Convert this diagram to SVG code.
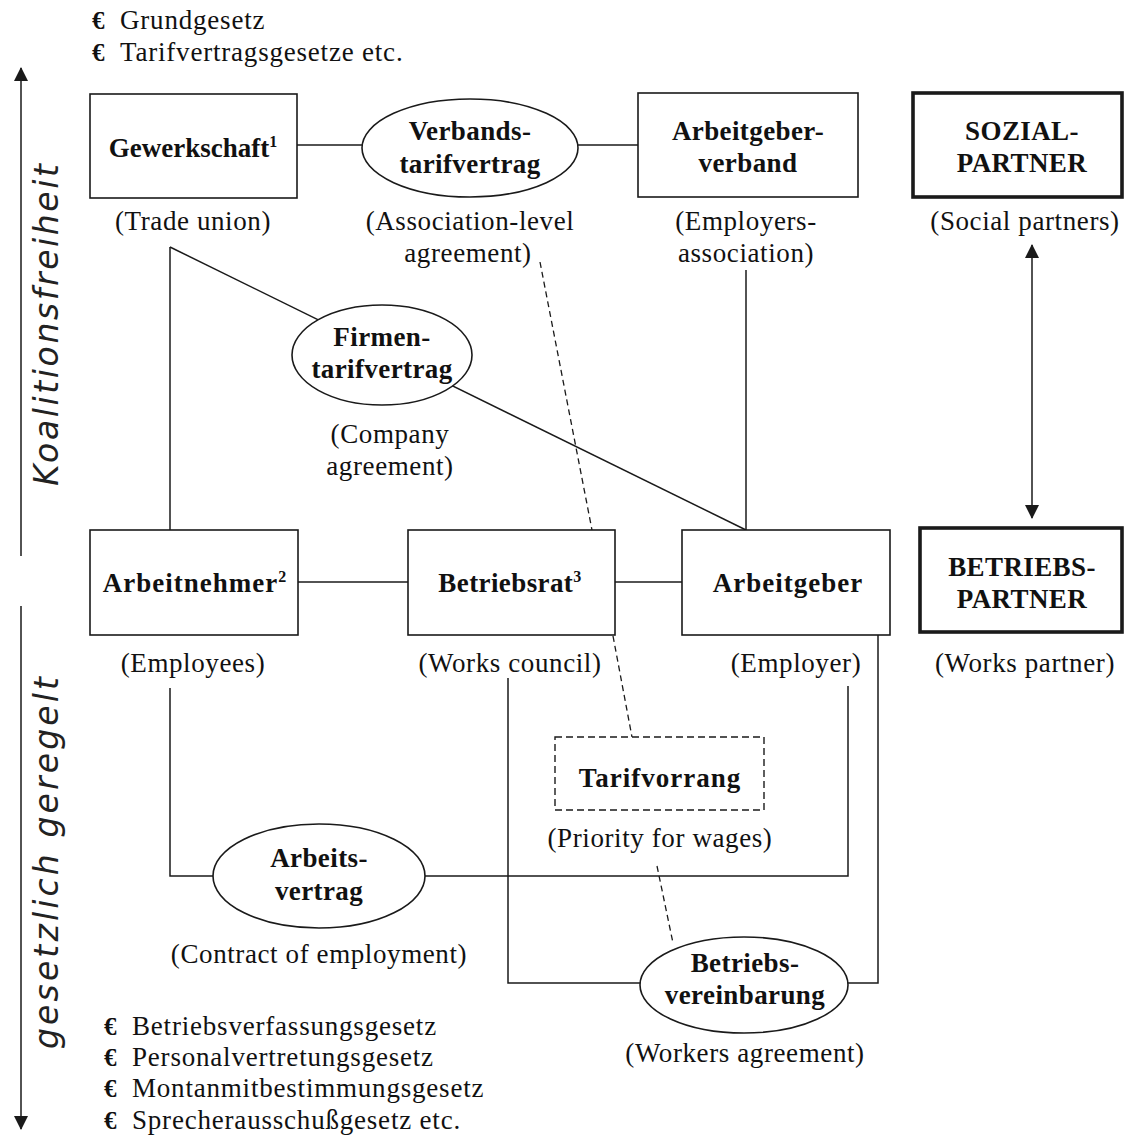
<svg xmlns="http://www.w3.org/2000/svg" width="1125" height="1139" viewBox="0 0 1125 1139">
<style>
.box{fill:#fff;stroke:#1a1a1a;stroke-width:1.6}
.thick{fill:#fff;stroke:#1a1a1a;stroke-width:3.6}
.ell{fill:#fff;stroke:#1a1a1a;stroke-width:1.6}
.dbox{fill:#fff;stroke:#1a1a1a;stroke-width:1.4;stroke-dasharray:7 4}
.ln{fill:none;stroke:#1a1a1a;stroke-width:1.5}
.dash{fill:none;stroke:#1a1a1a;stroke-width:1.3;stroke-dasharray:6 4}
.b{font-family:"Liberation Serif","Times New Roman",serif;font-weight:bold;font-size:27px;text-anchor:middle;letter-spacing:0.4px;fill:#111}
.r{font-family:"Liberation Serif","Times New Roman",serif;font-size:27px;text-anchor:middle;letter-spacing:0.6px;fill:#111}
.l{font-family:"Liberation Serif","Times New Roman",serif;font-size:27px;letter-spacing:0.8px;fill:#111}
.e{font-family:"Liberation Serif","Times New Roman",serif;font-size:25px;font-weight:bold;fill:#111}
.v{font-family:"DejaVu Sans",Verdana,sans-serif;font-style:italic;font-size:33px;text-anchor:middle;fill:#222}
.sup{font-size:16px}
</style>
<defs>
<marker id="ah" viewBox="0 0 14 14" refX="13" refY="7" markerWidth="14" markerHeight="14" markerUnits="userSpaceOnUse" orient="auto-start-reverse">
<path d="M0,0 L14,7 L0,14 Z" fill="#1a1a1a"/>
</marker>
</defs>

<g id="legend-top">
<text class="e" x="92" y="29">€</text><text class="l" x="120" y="29">Grundgesetz</text>
<text class="e" x="92" y="61">€</text><text class="l" x="120" y="61">Tarifvertragsgesetze etc.</text>
</g>
<g id="legend-bottom">
<text class="e" x="104" y="1035">€</text><text class="l" x="132" y="1035">Betriebsverfassungsgesetz</text>
<text class="e" x="104" y="1066">€</text><text class="l" x="132" y="1066">Personalvertretungsgesetz</text>
<text class="e" x="104" y="1097">€</text><text class="l" x="132" y="1097">Montanmitbestimmungsgesetz</text>
<text class="e" x="104" y="1129">€</text><text class="l" x="132" y="1129">Sprecherausschußgesetz etc.</text>
</g>

<g id="axis">
<path class="ln" d="M21,556 V68" marker-end="url(#ah)"/>
<path class="ln" d="M21,606 V1129" marker-end="url(#ah)"/>
<text class="v" transform="translate(58,325) rotate(-90)" textLength="322" lengthAdjust="spacing">Koalitionsfreiheit</text>
<text class="v" transform="translate(58,863) rotate(-90)" textLength="372" lengthAdjust="spacing">gesetzlich geregelt</text>
</g>

<g id="connectors">
<path class="ln" d="M297,145 H363"/>
<path class="ln" d="M578,145 H638"/>
<path class="ln" d="M170,247 V530"/>
<path class="ln" d="M170,247 L746,530"/>
<path class="ln" d="M746,270 V530"/>
<path class="dash" d="M540,262 L592,530"/>
<path class="dash" d="M613,636 L632,737"/>
<path class="dash" d="M657,866 L673,943"/>
<path class="ln" d="M298,582 H408"/>
<path class="ln" d="M615,582 H682"/>
<path class="ln" d="M170,688 V876 H848 V686"/>
<path class="ln" d="M508,678 V983 H878 V635"/>
<path class="ln" d="M1032,518 V245" marker-start="url(#ah)" marker-end="url(#ah)"/>
</g>

<g id="gewerkschaft">
<rect class="box" x="90" y="94" width="207" height="104"/>
<text class="b" x="193" y="157" style="letter-spacing:0">Gewerkschaft<tspan class="sup" dy="-10">1</tspan></text>
<text class="r" x="193" y="230">(Trade union)</text>
</g>
<g id="verbandstarifvertrag">
<ellipse class="ell" cx="470" cy="148" rx="108" ry="49"/>
<text class="b" x="470" y="140">Verbands-</text>
<text class="b" x="470" y="173">tarifvertrag</text>
<text class="r" x="470" y="230">(Association-level</text>
<text class="r" x="468" y="262">agreement)</text>
</g>
<g id="arbeitgeberverband">
<rect class="box" x="638" y="93" width="220" height="104"/>
<text class="b" x="748" y="140">Arbeitgeber-</text>
<text class="b" x="748" y="172">verband</text>
<text class="r" x="746" y="230">(Employers-</text>
<text class="r" x="746" y="262">association)</text>
</g>
<g id="sozialpartner">
<rect class="thick" x="913" y="93" width="209" height="104"/>
<text class="b" x="1022" y="140">SOZIAL-</text>
<text class="b" x="1022" y="172">PARTNER</text>
<text class="r" x="1025" y="230">(Social partners)</text>
</g>
<g id="firmentarifvertrag">
<ellipse class="ell" cx="382" cy="355" rx="90" ry="50"/>
<text class="b" x="382" y="346">Firmen-</text>
<text class="b" x="382" y="378">tarifvertrag</text>
<text class="r" x="390" y="443">(Company</text>
<text class="r" x="390" y="475">agreement)</text>
</g>
<g id="arbeitnehmer">
<rect class="box" x="90" y="530" width="208" height="105"/>
<text class="b" x="195" y="592" style="letter-spacing:1px">Arbeitnehmer<tspan class="sup" dy="-10">2</tspan></text>
<text class="r" x="193" y="672">(Employees)</text>
</g>
<g id="betriebsrat">
<rect class="box" x="408" y="530" width="207" height="105"/>
<text class="b" x="510" y="592">Betriebsrat<tspan class="sup" dy="-10">3</tspan></text>
<text class="r" x="510" y="672">(Works council)</text>
</g>
<g id="arbeitgeber">
<rect class="box" x="682" y="530" width="208" height="105"/>
<text class="b" x="788" y="592" style="letter-spacing:1px">Arbeitgeber</text>
<text class="r" x="796" y="672">(Employer)</text>
</g>
<g id="betriebspartner">
<rect class="thick" x="920" y="528" width="202" height="104"/>
<text class="b" x="1022" y="576">BETRIEBS-</text>
<text class="b" x="1022" y="608">PARTNER</text>
<text class="r" x="1025" y="672">(Works partner)</text>
</g>
<g id="tarifvorrang">
<rect class="dbox" x="555" y="737" width="209" height="73"/>
<text class="b" x="660" y="787" style="letter-spacing:1px">Tarifvorrang</text>
<text class="r" x="660" y="847">(Priority for wages)</text>
</g>
<g id="arbeitsvertrag">
<ellipse class="ell" cx="319" cy="876" rx="106" ry="52"/>
<text class="b" x="319" y="867">Arbeits-</text>
<text class="b" x="319" y="900">vertrag</text>
<text class="r" x="319" y="963">(Contract of employment)</text>
</g>
<g id="betriebsvereinbarung">
<ellipse class="ell" cx="744" cy="985" rx="104" ry="48"/>
<text class="b" x="745" y="972">Betriebs-</text>
<text class="b" x="745" y="1004">vereinbarung</text>
<text class="r" x="745" y="1062">(Workers agreement)</text>
</g>
</svg>
